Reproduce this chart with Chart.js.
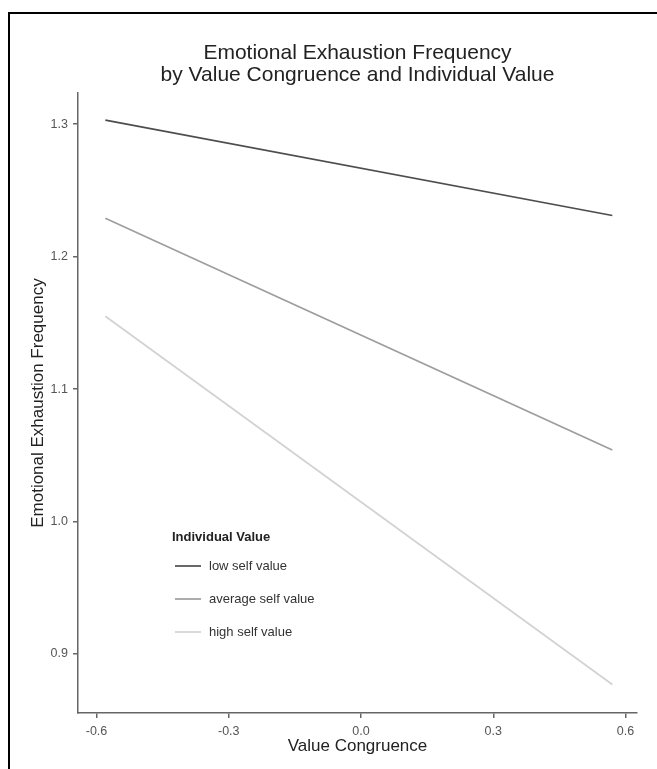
<!DOCTYPE html>
<html>
<head>
<meta charset="utf-8">
<script src="https://cdn.jsdelivr.net/npm/chart.js@4/dist/chart.umd.min.js"></script>
<style>
  html, body { margin: 0; padding: 0; background: #fff; }
  #wrap { width: 657px; height: 769px; }
</style>
</head>
<body>
<div id="wrap"><canvas id="c" width="657" height="769"></canvas></div>
<script>
// Simple slopes: emotional exhaustion vs. value congruence at three levels of individual value
const congruence = [-0.58, 0.57];
const lowSelf = [1.303, 1.231];
const averageSelf = [1.229, 1.054];
const highSelf = [1.155, 0.877];
const seriesNames = ['low self value', 'average self value', 'high self value'];
const xTicks = [-0.6, -0.3, 0.0, 0.3, 0.6];
const yTicks = [0.9, 1.0, 1.1, 1.2, 1.3];

const seriesColors = ['#4d4d4d', '#9d9d9d', '#d2d2d2'];
const FONT = '"Liberation Sans", Arial, sans-serif';

const toPoints = ys => congruence.map((x, i) => ({ x, y: ys[i] }));

// Frame lines along the top and left of the figure
const framePlugin = {
  id: 'frame',
  beforeDraw(chart) {
    const ctx = chart.ctx;
    ctx.save();
    ctx.fillStyle = '#fff';
    ctx.fillRect(0, 0, chart.width, chart.height);
    ctx.fillStyle = '#000';
    ctx.fillRect(8, 12, chart.width - 8, 2);
    ctx.fillRect(8, 12, 2, chart.height - 12);
    ctx.restore();
  }
};

// Legend box drawn inside the plot, lower left
const insideLegend = {
  id: 'insideLegend',
  afterDraw(chart) {
    const ctx = chart.ctx;
    const area = chart.chartArea;
    const x0 = area.left + 94;
    const y0 = 537;
    ctx.save();
    ctx.textBaseline = 'middle';
    ctx.textAlign = 'left';
    ctx.fillStyle = '#222';
    ctx.font = 'bold 13px ' + FONT;
    ctx.fillText('Individual Value', x0, y0);
    ctx.font = '13px ' + FONT;
    chart.data.datasets.forEach((ds, i) => {
      const y = y0 + 29 + i * 33;
      ctx.strokeStyle = ds.borderColor;
      ctx.lineWidth = ds.borderWidth;
      ctx.beginPath();
      ctx.moveTo(x0 + 3, y);
      ctx.lineTo(x0 + 29, y);
      ctx.stroke();
      ctx.fillStyle = '#333';
      ctx.fillText(ds.label, x0 + 37, y);
    });
    ctx.restore();
  }
};

new Chart(document.getElementById('c'), {
  type: 'line',
  data: {
    datasets: [lowSelf, averageSelf, highSelf].map((ys, i) => ({
      label: seriesNames[i],
      data: toPoints(ys),
      borderColor: seriesColors[i],
      backgroundColor: seriesColors[i],
      borderWidth: 1.7,
      pointRadius: 0,
      fill: false,
      tension: 0
    }))
  },
  options: {
    responsive: false,
    animation: false,
    layout: { padding: { left: 0, right: 20, top: 30, bottom: 0 } },
    plugins: {
      legend: { display: false },
      tooltip: { enabled: false },
      title: {
        display: true,
        fullSize: false,
        text: ['Emotional Exhaustion Frequency', 'by Value Congruence and Individual Value'],
        color: '#222',
        font: { family: FONT, size: 21, weight: 'normal', lineHeight: 1.05 },
        padding: { top: 12, bottom: 7 }
      }
    },
    scales: {
      x: {
        type: 'linear',
        min: -0.642,
        max: 0.626,
        afterBuildTicks: s => { s.ticks = xTicks.map(v => ({ value: v })); },
        afterFit: s => { s.height = 56; },
        ticks: {
          color: '#555',
          font: { family: FONT, size: 12.5 },
          padding: 6,
          maxRotation: 0,
          callback: v => v.toFixed(1)
        },
        grid: { drawOnChartArea: false, drawTicks: true, tickLength: 5, color: '#666', lineWidth: 1.5 },
        border: { display: true, color: '#666', width: 1.5 },
        title: {
          display: true,
          text: 'Value Congruence',
          color: '#222',
          font: { family: FONT, size: 17 },
          padding: { top: 0, bottom: 12 }
        }
      },
      y: {
        type: 'linear',
        min: 0.8555,
        max: 1.3234,
        afterBuildTicks: s => { s.ticks = yTicks.map(v => ({ value: v })); },
        afterFit: s => { s.width = 78; },
        ticks: {
          color: '#555',
          font: { family: FONT, size: 12.5 },
          padding: 5,
          callback: v => v.toFixed(1)
        },
        grid: { drawOnChartArea: false, drawTicks: true, tickLength: 5, color: '#666', lineWidth: 1.5 },
        border: { display: true, color: '#666', width: 1.5 },
        title: {
          display: true,
          text: 'Emotional Exhaustion Frequency',
          color: '#222',
          font: { family: FONT, size: 17 },
          padding: { top: 28, bottom: 0 }
        }
      }
    }
  },
  plugins: [framePlugin, insideLegend]
});
</script>
</body>
</html>
